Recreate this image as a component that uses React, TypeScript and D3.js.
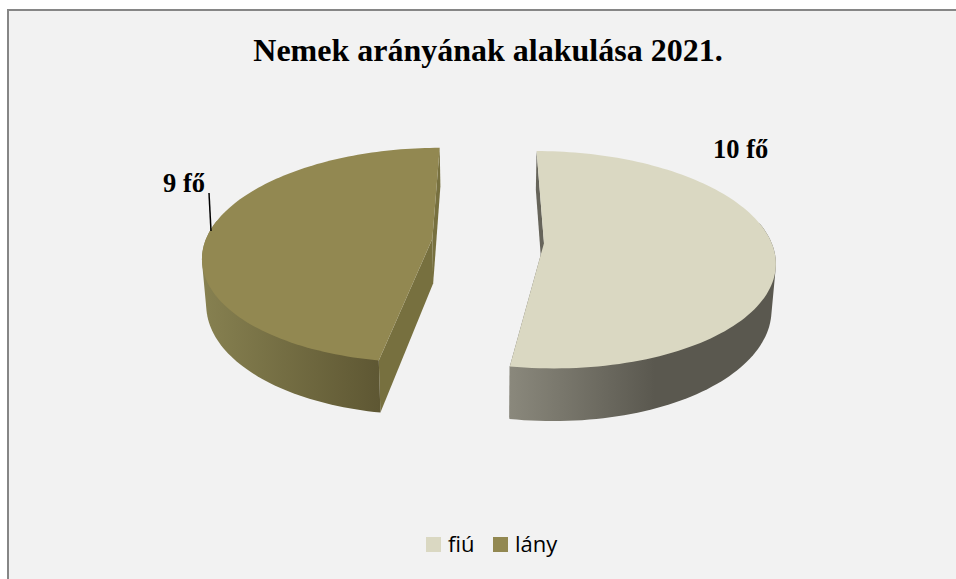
import React from "react";
import * as d3 from "d3";

const categories = ["fiú", "lány"];
const values = [10, 9];
const dataLabels = ["10 fő", "9 fő"];
const faceColors = ["#DAD8C2", "#928851"];
const cutColors = ["#66645A", "#77703F"];
const wallStops = [
  ["#8A887C", "#5A584F"],
  ["#868050", "#5E5733"],
];
const gradientRanges = [
  [510, 655],
  [205, 380],
];
const title = "Nemek arányának alakulása 2021.";

const W = 956;
const H = 579;
const CX = 488;
const CY = 241;
const R = 227;
const RY = 105.5;
const P = 0.152;
const EXPLODE = 56;
const DEPTH = 44.5;
const BOTTOM_SCALE = 0.985;

const pie = d3
  .pie<number>()
  .sort(null)
  .startAngle(0)
  .endAngle(2 * Math.PI);

function project(u: number, v: number, level: number): [number, number] {
  const w = 1 + (P * v) / R;
  const sx = level ? BOTTOM_SCALE : 1;
  return [CX + (u / w) * sx, CY - (v * RY) / R / w + (level * DEPTH) / w];
}

const line = d3.line<[number, number]>().curve(d3.curveLinear);

export default function App() {
  const arcs = pie(values);
  const slices = arcs.map((a, i) => {
    const mid = (a.startAngle + a.endAngle) / 2;
    const ou = EXPLODE * Math.sin(mid);
    const ov = EXPLODE * Math.cos(mid);
    const pt = (ang: number, level: number, r = R) =>
      project(ou + r * Math.sin(ang), ov + r * Math.cos(ang), level);
    const angs = d3.range(0, 121).map((k) => a.startAngle + ((a.endAngle - a.startAngle) * k) / 120);
    const face = [pt(0, 0, 0), ...angs.map((t) => pt(t, 0))];
    const cutA = [pt(0, 0, 0), pt(a.startAngle, 0), pt(a.startAngle, 1), pt(0, 1, 0)];
    const cutB = [pt(0, 0, 0), pt(a.endAngle, 0), pt(a.endAngle, 1), pt(0, 1, 0)];
    const front = angs.filter((t) => Math.cos(t) < 0.2);
    const wall = d3.polygonHull([...front.map((t) => pt(t, 0)), ...front.map((t) => pt(t, 1))]) as [number, number][];
    return { i, face, cutA, cutB, wall };
  });

  return (
    <svg
      width={W}
      height={H}
      viewBox={`0 0 ${W} ${H}`}
      style={{ position: "fixed", left: 0, top: 0, display: "block", background: "#fff" }}
    >
      <defs>
        {slices.map((s) => (
          <linearGradient
            key={s.i}
            id={`wall${s.i}`}
            gradientUnits="userSpaceOnUse"
            x1={gradientRanges[s.i][0]}
            x2={gradientRanges[s.i][1]}
            y1={0}
            y2={0}
          >
            <stop offset="0%" stopColor={wallStops[s.i][0]} />
            <stop offset="100%" stopColor={wallStops[s.i][1]} />
          </linearGradient>
        ))}
      </defs>
      <rect x={8} y={10} width={W} height={H} fill="#F2F2F2" stroke="#868686" strokeWidth={2} />
      <text
        x={488}
        y={61}
        textAnchor="middle"
        fontFamily="'Liberation Serif', serif"
        fontWeight="bold"
        fontSize={32}
        fill="#000"
      >
        {title}
      </text>
      {slices.map((s) => (
        <g key={s.i}>
          <path d={line(s.cutA)! + "Z"} fill={cutColors[s.i]} />
          <path d={line(s.cutB)! + "Z"} fill={cutColors[s.i]} />
          <path d={line(s.wall)! + "Z"} fill={`url(#wall${s.i})`} />
          <path d={line(s.face)! + "Z"} fill={faceColors[s.i]} />
        </g>
      ))}
      <line x1={209} y1={193} x2={211} y2={231} stroke="#000" strokeWidth={1.5} />
      <text x={713} y={158} fontFamily="'Liberation Serif', serif" fontWeight="bold" fontSize={26.5} fill="#000">
        {dataLabels[0]}
      </text>
      <text x={163} y={192} fontFamily="'Liberation Serif', serif" fontWeight="bold" fontSize={26.5} fill="#000">
        {dataLabels[1]}
      </text>
      <rect x={426} y={537} width={15} height={15} fill={faceColors[0]} />
      <text x={448} y={552} fontFamily="'Open Sans', sans-serif" fontSize={22} fill="#000">
        {categories[0]}
      </text>
      <rect x={493} y={537} width={15} height={15} fill={faceColors[1]} />
      <text x={515} y={552} fontFamily="'Open Sans', sans-serif" fontSize={22} fill="#000">
        {categories[1]}
      </text>
    </svg>
  );
}
